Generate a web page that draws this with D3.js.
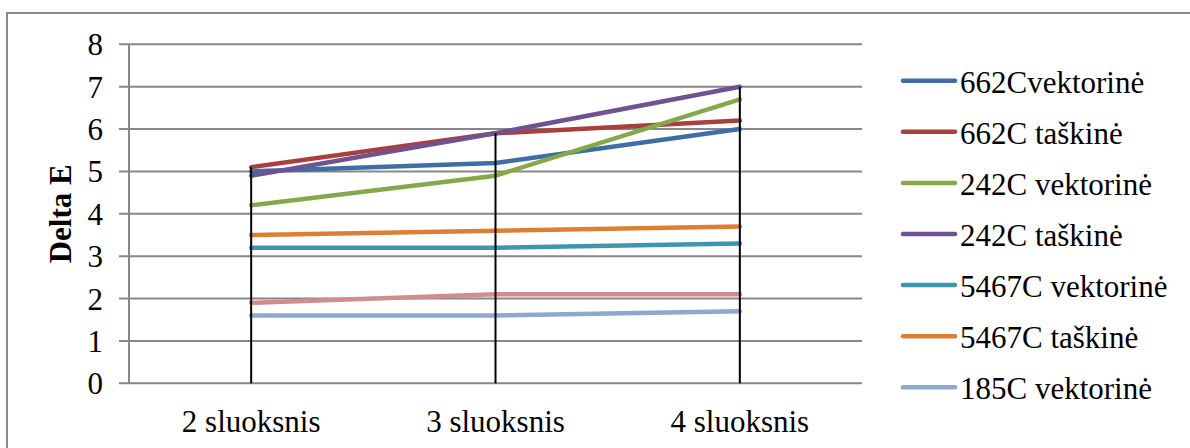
<!DOCTYPE html>
<html>
<head>
<meta charset="utf-8">
<script src="https://cdn.jsdelivr.net/npm/d3@7"></script>
<style>
  html, body { margin: 0; padding: 0; background: #fff; }
  svg { display: block; }
  text { font-family: "Liberation Serif", "Times New Roman", serif; fill: #000; }
</style>
</head>
<body>
<svg id="chart" width="1190" height="448"></svg>
<script>
// Categories (number of layers)
const categories = ["2 sluoksnis", "3 sluoksnis", "4 sluoksnis"];

// Delta E per series
const seriesNames = [
  "662Cvektorinė",
  "662C taškinė",
  "242C vektorinė",
  "242C taškinė",
  "5467C vektorinė",
  "5467C taškinė",
  "185C vektorinė",
  "185C taškinė"
];
const v662Cvekt  = [5.0, 5.2, 6.0];
const v662Ctask  = [5.1, 5.9, 6.2];
const v242Cvekt  = [4.2, 4.9, 6.7];
const v242Ctask  = [4.9, 5.9, 7.0];
const v5467Cvekt = [3.2, 3.2, 3.3];
const v5467Ctask = [3.5, 3.6, 3.7];
const v185Cvekt  = [1.6, 1.6, 1.7];
const v185Ctask  = [1.9, 2.1, 2.1];
const seriesValues = [v662Cvekt, v662Ctask, v242Cvekt, v242Ctask, v5467Cvekt, v5467Ctask, v185Cvekt, v185Ctask];

const colors = ["#3F6DA5", "#A9403D", "#86A84A", "#6F5290", "#3E96AE", "#DC7F35", "#8EA7CD", "#CF8D8C"];
const yTicks = [0, 1, 2, 3, 4, 5, 6, 7, 8];
const yTitle = "Delta E";
const legendCount = 7; // the legend box only has room for seven entries

const svg = d3.select("#chart");

// outer chart frame (extends past the right and bottom edges)
svg.append("rect")
  .attr("x", 7).attr("y", 13)
  .attr("width", 1200).attr("height", 460)
  .attr("fill", "none").attr("stroke", "#8a8a8a").attr("stroke-width", 2);

const plot = { left: 129, right: 862, top: 44.3, bottom: 383.3 };

const x = d3.scaleBand().domain(categories).range([plot.left, plot.right]);
const cx = c => x(c) + x.bandwidth() / 2;
const y = d3.scaleLinear().domain([0, 8]).range([plot.bottom, plot.top]);

// horizontal gridlines with outward ticks
const g = svg.append("g");
g.selectAll("line.grid").data(yTicks).join("line")
  .attr("class", "grid")
  .attr("x1", plot.left - 10).attr("x2", plot.right)
  .attr("y1", d => y(d)).attr("y2", d => y(d))
  .attr("stroke", "#878787").attr("stroke-width", 2);

// value axis line
g.append("line")
  .attr("x1", plot.left).attr("x2", plot.left)
  .attr("y1", y(8)).attr("y2", y(0))
  .attr("stroke", "#878787").attr("stroke-width", 2);

// y tick labels
g.selectAll("text.ytick").data(yTicks).join("text")
  .attr("class", "ytick")
  .attr("x", 103).attr("y", d => y(d) + 11)
  .attr("text-anchor", "end")
  .attr("font-size", 31)
  .text(d => d);

// y title
svg.append("text")
  .attr("transform", `translate(71,${(plot.top + plot.bottom) / 2}) rotate(-90)`)
  .attr("text-anchor", "middle")
  .attr("font-size", 31).attr("font-weight", "bold")
  .text(yTitle);

// category labels
g.selectAll("text.xtick").data(categories).join("text")
  .attr("class", "xtick")
  .attr("x", d => cx(d)).attr("y", 431.5)
  .attr("text-anchor", "middle")
  .attr("font-size", 31)
  .text(d => d);

// series lines
const line = d3.line()
  .x((d, i) => cx(categories[i]))
  .y(d => y(d));

svg.append("g").selectAll("path").data(seriesValues).join("path")
  .attr("d", d => line(d))
  .attr("fill", "none")
  .attr("stroke", (d, i) => colors[i])
  .attr("stroke-width", 4.5)
  .attr("stroke-linecap", "round")
  .attr("stroke-linejoin", "round");

// drop lines from the highest value at each category down to zero
const maxes = categories.map((c, i) => d3.max(seriesValues, s => s[i]));
svg.append("g").selectAll("line").data(categories).join("line")
  .attr("x1", d => cx(d)).attr("x2", d => cx(d))
  .attr("y1", (d, i) => y(maxes[i])).attr("y2", y(0))
  .attr("stroke", "#000").attr("stroke-width", 2);

// legend
const legend = svg.append("g");
const legendItems = seriesNames.slice(0, legendCount).map((n, i) => ({ name: n, color: colors[i], i }));
const lg = legend.selectAll("g").data(legendItems).join("g")
  .attr("transform", d => `translate(0,${80.7 + d.i * 51.1})`);
lg.append("line")
  .attr("x1", 903).attr("x2", 955)
  .attr("y1", 0).attr("y2", 0)
  .attr("stroke", d => d.color).attr("stroke-width", 4.5)
  .attr("stroke-linecap", "round");
lg.append("text")
  .attr("x", 960).attr("y", 12)
  .attr("font-size", 31)
  .text(d => d.name);
</script>
</body>
</html>
